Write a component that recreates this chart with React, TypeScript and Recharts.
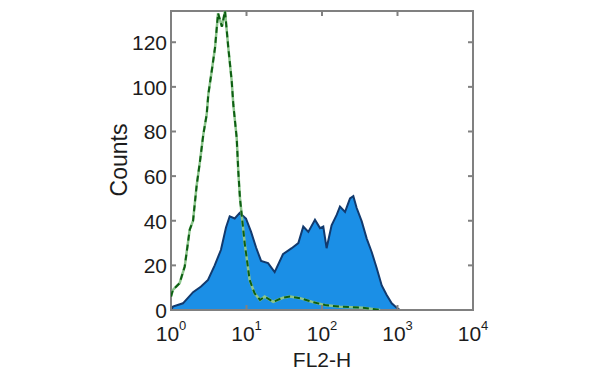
import React from "react";
import { ComposedChart, Area, Line, XAxis, YAxis, ReferenceArea } from "recharts";

// FL2-H histogram, stained sample (filled blue)
const stainedFl2 = [1, 1.06, 1.44, 1.96, 2.5, 3.09, 3.79, 4.59, 5.35, 5.99, 6.98, 8.13, 9.84, 11.5, 13.4, 15.6, 19.3, 23.6, 30.4, 39.7, 48.6, 56.5, 65.9, 80.7, 94.1, 104, 115, 134, 157, 173, 202, 235, 260, 288, 336, 391, 455, 531, 618, 719, 838, 975, 1080];
const stainedCounts = [0, 1.5, 3, 8, 10.5, 13.5, 20, 27, 37, 42, 41, 43.5, 41, 35, 28, 22, 21, 17, 25, 27.7, 30, 37.4, 35, 40.4, 36.7, 37.4, 27.7, 38, 42.7, 46.4, 44, 50, 51, 45.7, 39.7, 32, 26, 18.7, 11, 6.7, 3, 1, 0];

// isotype / unstained control (green line)
const controlFl2 = [1, 1.06, 1.3, 1.52, 1.77, 1.96, 2.08, 2.19, 2.42, 2.68, 2.97, 3.12, 3.46, 3.83, 4.2, 4.73, 5.19, 5.74, 6.37, 6.69, 7.42, 7.79, 8.2, 9.46, 11, 12.8, 15.1, 17.4, 22.6, 30.4, 37.7, 51.2, 73.1, 110, 173, 349, 588];
const controlCounts = [6, 9, 12, 19.5, 36, 40, 48.7, 56, 66.6, 78.7, 87.6, 96.6, 107, 117.6, 133, 127, 134, 117.6, 102.6, 92, 77, 62, 50, 30, 13.5, 7.5, 4.5, 6, 3.7, 5.5, 6, 5.3, 3.7, 2.2, 1.5, 1, 0];

const xTicks = [1, 10, 100, 1000, 10000];
const xTickExponents = ["0", "1", "2", "3", "4"];
const yTicks = [0, 20, 40, 60, 80, 100, 120];

const PLOT_LEFT = 171;
const PLOT_RIGHT = 473;
const PLOT_TOP = 11;
const PLOT_BOTTOM = 310;
const FRAME = "#808080";
const FONT = "'Liberation Sans', Arial, Helvetica, sans-serif";
const TEXT = "#1c1c1c";

// merge both series into one table sorted by FL2-H
const buildData = () => {
  const rows: Record<number, any> = {};
  stainedFl2.forEach((v, i) => {
    rows[v] = { ...(rows[v] || { fl2: v }), stained: stainedCounts[i] };
  });
  controlFl2.forEach((v, i) => {
    rows[v] = { ...(rows[v] || { fl2: v }), control: controlCounts[i] };
  });
  return Object.values(rows).sort((a: any, b: any) => a.fl2 - b.fl2);
};

const data = buildData();

// ticks point inward, mirrored on the top edge
const BottomTick = (props: any) => {
  const { x, payload } = props;
  const idx = xTicks.indexOf(payload.value);
  return (
    <g>
      <line x1={x} x2={x} y1={PLOT_BOTTOM} y2={PLOT_BOTTOM - 5} stroke={FRAME} strokeWidth={2} />
      <line x1={x} x2={x} y1={PLOT_TOP} y2={PLOT_TOP + 5} stroke={FRAME} strokeWidth={2} />
      <text x={x} y={PLOT_BOTTOM + 31} textAnchor="middle" fontSize={21} fontFamily={FONT} fill={TEXT}>
        10
        <tspan dy={-11} fontSize={13}>{xTickExponents[idx]}</tspan>
      </text>
    </g>
  );
};

// mirrored on the right edge
const LeftTick = (props: any) => {
  const { y, payload } = props;
  return (
    <g>
      <line x1={PLOT_LEFT} x2={PLOT_LEFT + 5} y1={y} y2={y} stroke={FRAME} strokeWidth={2} />
      <line x1={PLOT_RIGHT - 5} x2={PLOT_RIGHT} y1={y} y2={y} stroke={FRAME} strokeWidth={2} />
      <text x={PLOT_LEFT - 4} y={y + 8} textAnchor="end" fontSize={21} fontFamily={FONT} fill={TEXT}>
        {payload.value}
      </text>
    </g>
  );
};

const countsLabel = () => (
  <text
    x={127}
    y={160}
    transform="rotate(-90 127 160)"
    textAnchor="middle"
    fontSize={23}
    fontFamily={FONT}
    fill={TEXT}
  >
    Counts
  </text>
);

const fl2Label = () => (
  <text x={322} y={367} textAnchor="middle" fontSize={21} fontFamily={FONT} fill={TEXT}>
    FL2-H
  </text>
);

export default function App() {
  return (
    <div style={{ position: "absolute", left: 0, top: 0, background: "#fff" }}>
      <ComposedChart
        width={600}
        height={374}
        data={data}
        margin={{ top: PLOT_TOP, right: 600 - PLOT_RIGHT, left: 0, bottom: 0 }}
      >
        <XAxis
          dataKey="fl2"
          type="number"
          scale="log"
          domain={[1, 10000]}
          ticks={xTicks}
          interval={0}
          height={374 - PLOT_BOTTOM}
          axisLine={false}
          tickLine={false}
          tick={<BottomTick />}
          label={fl2Label}
          allowDataOverflow
        />
        <YAxis
          type="number"
          domain={[0, 134]}
          ticks={yTicks}
          interval={0}
          width={PLOT_LEFT}
          axisLine={false}
          tickLine={false}
          tick={<LeftTick />}
          label={countsLabel}
          allowDataOverflow
        />
        <Area
          type="linear"
          dataKey="stained"
          stroke="#123a6e"
          strokeWidth={2}
          fill="#1b8fe6"
          fillOpacity={1}
          connectNulls
          dot={false}
          activeDot={false}
          isAnimationActive={false}
        />
        <Line
          type="linear"
          dataKey="control"
          stroke="#8cc58c"
          strokeWidth={2.5}
          connectNulls
          dot={false}
          activeDot={false}
          isAnimationActive={false}
        />
        <Line
          type="linear"
          dataKey="control"
          stroke="#0d5e12"
          strokeWidth={2}
          strokeDasharray="6 4"
          connectNulls
          dot={false}
          activeDot={false}
          isAnimationActive={false}
        />
        <ReferenceArea
          x1={1}
          x2={10000}
          y1={0}
          y2={134}
          fill="none"
          fillOpacity={0}
          stroke={FRAME}
          strokeWidth={2}
          ifOverflow="visible"
        />
      </ComposedChart>
    </div>
  );
}
